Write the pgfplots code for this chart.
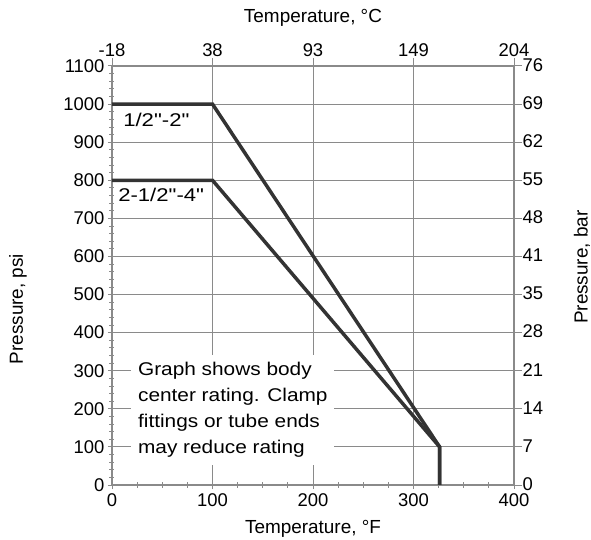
\documentclass[border=0pt]{standalone}
\usepackage{pgfplots}
\pgfplotsset{compat=1.18}
\usepackage{fontspec}
\setmainfont{Liberation Sans}
\newfontfamily\qfont{Liberation Sans}
\definecolor{lineC}{HTML}{333333}
\definecolor{gridC}{HTML}{8A8A8A}
\begin{document}
\begin{tikzpicture}
\pgfplotsset{
  base/.style={
    scale only axis, width=402bp, height=419bp,
    xmin=0, xmax=400, ymin=0, ymax=1100,
    /pgf/number format/assume math mode=true,
    /pgf/number format/1000 sep={},
    tick label style={font=\fontsize{18.5}{21}\selectfont},
    label style={font=\fontsize{19}{22}\selectfont},
    axis line style={gridC, line width=1.2pt},
    major tick style={gridC, line width=1pt},
    minor tick style={gridC, line width=0.8pt},
  }
}
\begin{axis}[base, name=main,
  xtick={0,100,...,400}, ytick={0,100,...,1100},
  minor x tick num=3, minor y tick num=4,
  xtick pos=bottom, ytick pos=left,
  major tick length=8bp, minor tick length=5bp,
  tick align=center,
  grid=major, major grid style={gridC, line width=0.9pt},
  xlabel={Temperature, °F}, ylabel={Pressure, psi},
  xticklabel style={yshift=-1bp},
  xlabel style={at={(axis description cs:0.5,-0.104)}, anchor=center},
  ylabel style={at={(axis description cs:-0.234,0.42)}, anchor=center},
]
\addplot[lineC, line width=3.5pt, line join=miter, sharp plot] coordinates {(0,1000) (100,1000) (326,100) (326,0)};
\addplot[lineC, line width=3.5pt, line join=miter, sharp plot] coordinates {(0,800) (100,800) (326,100) (326,0)};
\node[anchor=west, inner sep=0bp, xscale=1.2, font=\fontsize{18.5}{22}\selectfont] at (axis cs:11,958) {\qfont 1/2"-2"};
\node[anchor=west, inner sep=0bp, xscale=1.2, font=\fontsize{18.5}{22}\selectfont] at (axis cs:6,761) {\qfont 2-1/2"-4"};
\node[anchor=north west, fill=white, align=left, inner xsep=6bp, inner ysep=8bp, xscale=1.13, font=\fontsize{18.5}{26}\selectfont] at (axis cs:19,343) {Graph shows body\\center rating. Clamp\\fittings or tube ends\\may reduce rating};
\end{axis}
\begin{axis}[base,
  xtick={0,100,...,400}, xticklabels={-18,38,93,149,204},
  ytick={0,100,...,1100}, yticklabels={0,7,14,21,28,35,41,48,55,62,69,76},
  xtick pos=top, ytick pos=right,
  xticklabel pos=top, yticklabel pos=right,
  major tick length=8bp, tick align=outside,
  xticklabel style={yshift=-2bp},
  yticklabel style={xshift=-3bp, yshift=1bp},
  xlabel={Temperature, °C}, ylabel={Pressure, bar},
  xlabel style={at={(axis description cs:0.5,1.115)}, anchor=center},
  ylabel style={at={(axis description cs:1.169,0.52)}, anchor=center},
  axis line style={draw=none},
]
\end{axis}
\pgfresetboundingbox
\path ([shift={(-112bp,-55bp)}]main.south west) rectangle ([shift={(77bp,66bp)}]main.north east);
\end{tikzpicture}
\end{document}
